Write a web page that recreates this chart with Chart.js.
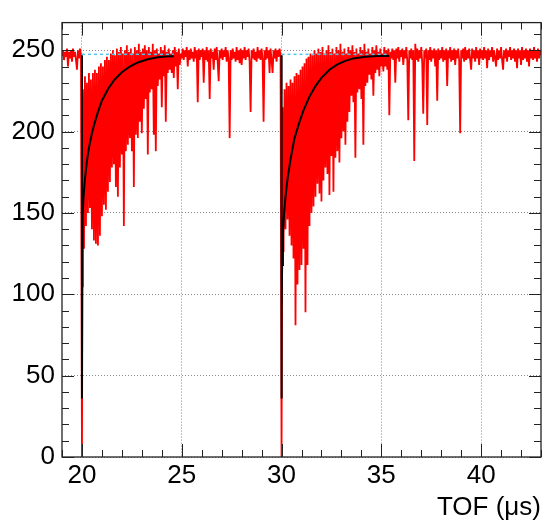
<!DOCTYPE html>
<html>
<head>
<meta charset="utf-8">
<script src="https://cdn.jsdelivr.net/npm/chart.js@4.4.1/dist/chart.umd.min.js"></script>
<style>
  html, body { margin: 0; padding: 0; background: #fff; }
  #wrap { width: 543px; height: 528px; }
</style>
</head>
<body>
<div id="wrap"><canvas id="tof"></canvas></div>
<script>
// Digitizer trace (ADC counts) in segments: start time (us), sample step (us), samples
const preStart = 19.0, preStep = 0.05;
const preTrace = [247, 250, 244, 249, 246, 251, 240, 249, 245, 250, 243, 251, 246, 249, 244, 238, 250, 245, 251, 247];

// first pulse, samples alternate low / high
const burstAStart = 20.0, burstAStep = 0.05;
const burstA = [
  0, 226, 128, 234, 142, 230, 150, 236, 153, 232, 140, 236, 133, 238, 131, 236, 130, 240, 136, 242,
  148, 240, 155, 244, 152, 246, 163, 244, 169, 248, 178, 250, 180, 247, 166, 251, 160, 249, 178, 252,
  186, 248, 142, 250, 188, 253, 192, 249, 196, 251, 188, 248, 166, 252, 198, 250, 196, 254, 206, 249,
  199, 251, 214, 253, 220, 250, 186, 252, 224, 249, 226, 254, 198, 250, 188, 251, 228, 248, 232, 252,
  215, 250, 234, 253, 206, 249, 236, 251, 238, 248, 236, 250, 233, 252, 240, 249, 226, 251, 241, 248
];

const gapAStart = 25.0, gapAStep = 0.05;
const gapA = [
  245, 251, 244, 250, 246, 252, 240, 250, 244, 251, 245, 249, 243, 252, 245, 250, 218, 251, 244, 250,
  246, 251, 230, 250, 244, 252, 243, 250, 220, 251, 245, 249, 238, 251, 244, 252, 243, 231, 250, 245,
  251, 244, 250, 246, 252, 243, 250, 245, 196, 250, 244, 251, 245, 249, 243, 252, 244, 250, 242, 251,
  241, 250, 245, 252, 244, 250, 246, 251, 243, 212, 250, 245, 251, 244, 249, 243, 252, 245, 250, 244,
  251, 245, 206, 250, 244, 252, 245, 250, 236, 251, 244, 236, 250, 245, 251, 243, 250, 246, 251, 247
];

// second pulse
const burstBStart = 30.0, burstBStep = 0.05;
const burstB = [
  0, 215, 126, 226, 140, 230, 146, 228, 136, 232, 130, 230, 122, 234, 81, 236, 106, 235, 115, 238,
  118, 240, 128, 242, 89, 245, 118, 246, 142, 248, 150, 247, 154, 250, 160, 248, 168, 251, 162, 249,
  157, 252, 170, 248, 178, 250, 174, 253, 161, 249, 185, 251, 163, 248, 184, 252, 188, 250, 181, 254,
  196, 249, 200, 251, 192, 248, 206, 252, 212, 250, 222, 253, 218, 249, 184, 251, 224, 248, 226, 252,
  220, 250, 192, 254, 228, 249, 230, 251, 235, 248, 232, 252, 222, 250, 236, 253, 238, 249, 234, 251,
  240, 248, 237, 252, 240, 250, 238, 251, 210, 249
];

const tailStart = 35.5, tailStep = 0.05;
const tail = [
  245, 251, 244, 250, 230, 251, 245, 252, 243, 250, 246, 251, 241, 250, 245, 252, 244, 207, 250, 245,
  251, 244, 250, 182, 254, 244, 251, 243, 250, 245, 252, 242, 211, 250, 245, 251, 204, 250, 244, 252,
  243, 250, 245, 251, 240, 250, 219, 251, 244, 250, 245, 252, 243, 250, 244, 251, 228, 250, 245, 252,
  243, 250, 244, 251, 241, 250, 245, 251, 244, 199, 250, 245, 251, 243, 252, 244, 250, 245, 251, 244,
  238, 251, 245, 250, 243, 252, 245, 250, 241, 251, 245, 250, 244, 252, 245, 250, 239, 251, 244, 250,
  246, 252, 243, 250, 245, 240, 251, 244, 250, 245, 252, 244, 238, 250, 245, 251, 243, 250, 246, 252,
  244, 250, 245, 251, 243, 250, 239, 251, 245, 250, 241, 252, 244, 250, 245, 251, 243, 250, 240, 251,
  245, 250, 244, 252, 245, 250, 243, 251, 245, 250, 247
];

// recovery fits
const fitAx = [20, 20, 20.01, 20.02, 20.04, 20.08, 20.15, 20.25, 20.35, 20.5, 20.65, 20.8, 21.0, 21.3, 21.6, 22.0, 22.4, 22.8, 23.3, 23.8, 24.2, 24.6];
const fitAy = [247, 36, 105, 128, 148, 160, 171, 182, 190, 199, 206, 212, 219, 226, 231.5, 236.5, 240, 242.5, 244.5, 245.7, 246.1, 246.3];
const fitBx = [30, 30, 30.01, 30.03, 30.07, 30.13, 30.2, 30.3, 30.45, 30.65, 30.9, 31.1, 31.4, 31.7, 32.0, 32.4, 32.8, 33.2, 33.6, 34.2, 34.8, 35.4];
const fitBy = [247, 36, 90, 118, 138, 150, 160, 171, 183, 196, 206, 213, 221.5, 228, 233, 238, 241.3, 243.5, 245, 246, 246.4, 246.5];

// pedestal level over each fit window
const pedestal = 247.5;
const fitRangeA = [20, 24.6];
const fitRangeB = [30, 35.4];

const xTicks = [20, 25, 30, 35, 40];
const yTicks = [0, 50, 100, 150, 200, 250];

function segment(start, step, values) {
  return values.map((v, i) => ({ x: +(start + i * step).toFixed(3), y: v }));
}
function pairs(xs, ys) {
  return xs.map((x, i) => ({ x: x, y: ys[i] }));
}

const trace = [].concat(
  segment(preStart, preStep, preTrace),
  segment(burstAStart, burstAStep, burstA),
  segment(gapAStart, gapAStep, gapA),
  segment(burstBStart, burstBStep, burstB),
  segment(tailStart, tailStep, tail)
);

// frame with inward ticks on all four sides
const frameTicks = {
  id: 'frameTicks',
  afterDatasetsDraw(chart) {
    const { ctx, chartArea: a, scales: { x, y } } = chart;
    ctx.save();
    ctx.strokeStyle = '#222';
    ctx.lineWidth = 1;
    ctx.beginPath();
    for (let v = 19; v <= 43; v++) {
      const px = Math.round(x.getPixelForValue(v)) + 0.5;
      const len = v % 5 === 0 ? 13 : 7;
      ctx.moveTo(px, a.bottom); ctx.lineTo(px, a.bottom - len);
      ctx.moveTo(px, a.top); ctx.lineTo(px, a.top + len);
    }
    for (let v = 0; v <= 260; v += 10) {
      const py = Math.round(y.getPixelForValue(v)) + 0.5;
      const len = v % 50 === 0 ? 12 : 7;
      ctx.moveTo(a.left, py); ctx.lineTo(a.left + len, py);
      ctx.moveTo(a.right, py); ctx.lineTo(a.right - len, py);
    }
    ctx.stroke();
    ctx.lineWidth = 1.3;
    ctx.strokeRect(a.left, a.top, a.right - a.left, a.bottom - a.top);
    ctx.restore();
  }
};

const font = { family: '"Liberation Sans", Arial, sans-serif', size: 26 };

new Chart(document.getElementById('tof'), {
  type: 'scatter',
  data: {
    datasets: [
      {
        data: trace, showLine: true, borderColor: '#ff0000', borderWidth: 1.8,
        borderJoinStyle: 'bevel', pointRadius: 0, order: 3
      },
      {
        data: pairs(fitAx, fitAy), showLine: true, borderColor: '#000', borderWidth: 2,
        pointRadius: 0, order: 2
      },
      {
        data: pairs(fitBx, fitBy), showLine: true, borderColor: '#000', borderWidth: 2,
        pointRadius: 0, order: 2
      },
      {
        data: [{ x: fitRangeA[0], y: pedestal }, { x: fitRangeA[1], y: pedestal }],
        showLine: true, borderColor: '#4fc6ea', borderWidth: 1.5, borderDash: [3, 3],
        pointRadius: 0, order: 1
      },
      {
        data: [{ x: fitRangeB[0], y: pedestal }, { x: fitRangeB[1], y: pedestal }],
        showLine: true, borderColor: '#4fc6ea', borderWidth: 1.5, borderDash: [3, 3],
        pointRadius: 0, order: 1
      }
    ]
  },
  options: {
    responsive: true,
    maintainAspectRatio: false,
    animation: false,
    layout: { padding: { top: 8, right: 2, left: 0, bottom: 0 } },
    plugins: { legend: { display: false }, tooltip: { enabled: false } },
    scales: {
      x: {
        type: 'linear', min: 19, max: 43,
        afterBuildTicks: s => { s.ticks = xTicks.map(v => ({ value: v })); },
        afterFit: s => { s.height = 71; },
        grid: { color: '#8a8a8a', lineWidth: 1, drawTicks: false },
        border: { display: false, dash: [1, 2] },
        ticks: { font: font, color: '#000', padding: 3, autoSkip: false, maxRotation: 0 },
        title: {
          display: true, text: 'TOF (\u03bcs)', align: 'end', color: '#000',
          font: font, padding: { top: 0, bottom: 5 }
        }
      },
      y: {
        type: 'linear', min: 0, max: 267,
        afterBuildTicks: s => { s.ticks = yTicks.map(v => ({ value: v })); },
        afterFit: s => { s.width = 62; },
        grid: { color: '#8a8a8a', lineWidth: 1, drawTicks: false },
        border: { display: false, dash: [1, 2] },
        ticks: { font: font, color: '#000', padding: 7 }
      }
    }
  },
  plugins: [frameTicks]
});
</script>
</body>
</html>
